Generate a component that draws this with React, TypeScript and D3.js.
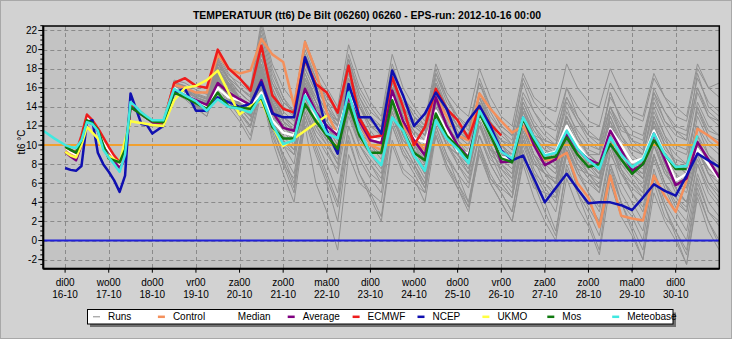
import React from "react";
import * as d3 from "d3";

// ---------- axes / categories ----------
const HOURS = [-12, -6, 0, 3, 6, 9, 12, 15, 18, 21, 24, 27, 30, 33, 36, 39, 42, 45, 48,
  54, 60, 66, 72, 78, 84, 90, 96, 102, 108, 114, 120, 126, 132, 138, 144, 150, 156, 162, 168,
  174, 180, 186, 192, 198, 204, 210, 216, 222, 228, 234, 240, 246, 252, 258, 264, 270, 276,
  282, 288, 294, 300, 306, 312, 318, 324, 330, 336, 342, 348, 354, 360];
const RUN_HOURS = [48, 54, 60, 66, 72, 78, 84, 90, 96, 102, 108, 114, 120, 126, 132, 138, 144,
  150, 156, 162, 168, 174, 180, 186, 192, 198, 204, 210, 216, 222, 228, 234, 240, 246, 252, 258,
  264, 270, 276, 282, 288, 294, 300, 306, 312, 318, 324, 330, 336, 342, 348, 354, 360];
const DAY_TICKS = [0, 24, 48, 72, 96, 120, 144, 168, 192, 216, 240, 264, 288, 312, 336];
const DAY_NAMES = ["di00", "wo00", "do00", "vr00", "za00", "zo00", "ma00", "di00", "wo00", "do00", "vr00", "za00", "zo00", "ma00", "di00"];
const DAY_DATES = ["16-10", "17-10", "18-10", "19-10", "20-10", "21-10", "22-10", "23-10", "24-10", "25-10", "26-10", "27-10", "28-10", "29-10", "30-10"];
const Y_TICKS = [-2, 0, 2, 4, 6, 8, 10, 12, 14, 16, 18, 20, 22];
const REF_ORANGE = 10;
const REF_BLUE = 0;

// ---------- named series (aligned with HOURS) ----------
const METEOBASE = [11.5, 10.7,
  10.0, 9.8, 9.7, 10.5, 12.4, 12.2, 11.5, 9.5, 8.7, 8.0, 7.2, 9.0, 14.5, 14.0, 13.4, 13.0, 12.6,
  12.6, 15.9, 15.2,
  14.6, 13.6, 14.8, 14.0,
  13.8, 13.4, 15.2, 12.2,
  10.1, 10.5, 15.2, 13.3,
  11.2, 10.7, 15.5, 11.5,
  9.1, 7.9, 12.9, 11.5,
  8.9, 7.3, 12.6, 10.7,
  9.6, 8.1, 13.6, 11.5,
  9.3, 8.6, 12.9, 10.8,
  8.9, 9.2, 11.5, 9.6,
  8.4, 7.5, 10.8, 9.0,
  7.7, 8.5, 11.2, 9.0,
  7.7, 7.8, 11.0, null,
  null];
const MOS = [null, null,
  9.8, 9.5, 9.2, 10.5, 12.6, 12.3, 11.6, 10.0, 8.6, 8.4, 8.2, 9.5, 14.0, 13.6, 13.2, 12.8, 12.5,
  12.4, 15.5, 15.0,
  14.4, 13.8, 15.5, 14.0,
  13.9, 13.8, 15.0, 11.9,
  10.7, 10.7, 14.3, 12.5,
  11.0, 9.6, 14.3, 11.0,
  9.2, 9.2, 14.7, 11.5,
  9.2, 8.4, 13.3, 11.0,
  9.8, 8.6, 13.3, 11.0,
  8.6, 8.2, 12.8, 10.5,
  8.6, 8.8, 10.8, 9.0,
  7.7, 8.0, 10.1, 8.5,
  7.0, 8.0, 10.5, 9.0,
  7.5, 7.5, null, null,
  null];
const MEDIAN = [null, null,
  9.8, 9.3, 9.0, 10.5, 12.8, 12.5, 11.8, 10.2, 9.5, 8.7, 8.0, 9.0, 14.2, 13.8, 13.3, 12.9, 12.6,
  12.5, 16.0, 15.3,
  14.7, 14.0, 16.0, 15.0,
  14.7, 14.0, 15.5, 12.6,
  11.3, 11.0, 15.5, 13.0,
  11.8, 11.3, 15.4, 12.5,
  10.7, 10.5, 15.2, 12.5,
  10.7, 10.3, 13.6, 11.5,
  9.4, 9.1, 13.1, 11.0,
  8.7, 8.7, 12.9, 10.5,
  9.0, 9.3, 12.0, 10.0,
  8.5, 8.0, 11.7, 10.0,
  8.2, 8.6, 11.5, 9.0,
  6.3, 7.0, 9.6, 8.0,
  6.4];
const AVERAGE = [null, null,
  9.3, 8.8, 8.4, 10.0, 12.5, 12.2, 11.5, 9.8, 9.0, 8.3, 7.6, 8.5, 14.0, 13.6, 13.2, 12.8, 12.4,
  12.3, 15.8, 15.2,
  14.7, 14.2, 16.5, 15.5,
  14.8, 14.2, 16.8, 13.5,
  11.8, 11.5, 15.9, 13.5,
  12.0, 11.0, 15.0, 12.5,
  10.5, 10.2, 15.7, 12.5,
  10.5, 8.9, 15.0, 12.0,
  10.0, 8.7, 13.6, 11.5,
  8.2, 8.3, 12.9, 10.0,
  7.9, 8.5, 11.2, 9.5,
  8.5, 8.0, 11.5, 9.5,
  7.3, 8.0, 11.2, 8.5,
  5.8, 6.5, 10.3, 8.5,
  6.6];
const CONTROL = [null, null,
  9.7, 9.2, 8.9, 10.3, 12.7, 12.4, 11.7, 10.1, 9.4, 8.6, 7.9, 8.8, 14.1, 13.7, 13.2, 12.8, 12.5,
  12.4, 16.3, 16.0,
  15.5, 15.5, 19.5, 18.0,
  17.5, 17.8, 21.1, 19.5,
  18.7, 14.1, 20.8, 17.8,
  13.4, 11.0, 15.5, 12.5,
  10.0, 9.5, 15.0, 12.0,
  10.5, 9.5, 15.0, 13.0,
  11.0, 10.5, 15.4, 13.8,
  12.5, 11.3, 12.0, 10.0,
  8.4, 8.5, 9.2, 6.0,
  4.5, 1.4, 6.8, 2.6,
  2.3, 2.1, 6.8, 4.7,
  3.0, 6.3, 11.7, 11.0,
  10.1];
const ECMWF = [null, null,
  9.9, 9.5, 9.2, 11.0, 13.2, 12.6, 11.8, 10.8, 9.8, 8.9, 8.2, 9.0, 14.2, 13.8, 13.4, 12.9, 12.5,
  12.3, 16.5, 17.0,
  16.2, 16.0, 20.0, 18.0,
  17.0, 15.7, 20.4, 15.2,
  13.8, 13.4, 19.0, 16.4,
  15.5, 13.4, 18.3, 12.8,
  10.8, 11.0, 17.1, 14.0,
  10.0, 11.9, 15.9, 13.8,
  12.6, 10.7, 14.0, 12.2,
  11.0, null, null, null,
  null, null, null, null,
  null, null, null, null,
  null, null, null, null,
  null, null, null, null,
  null];
const NCEP = [null, null,
  7.6, 7.4, 7.3, 7.8, 12.4, 12.6, 9.2, 8.0, 7.2, 6.3, 5.1, 6.8, 15.4, 13.8, 12.2, 12.1, 11.2,
  12.0, 15.5, 15.9,
  13.6, 13.6, 15.0, 14.5,
  14.0, 14.3, 16.6, 13.3,
  12.9, 12.9, 19.2, 16.0,
  11.5, 9.1, 16.4, 12.9,
  12.9, 11.2, 17.8, 15.2,
  12.0, 13.3, 15.5, 13.8,
  10.8, 12.6, 14.1, 12.0,
  9.4, 8.4, 8.9, 6.5,
  4.0, 5.5, 7.0, 5.4,
  3.9, 4.0, 4.0, 3.7,
  3.2, 4.5, 5.9, 5.2,
  4.7, 6.8, 9.1, 8.4,
  7.7];
const UKMO = [null, null,
  9.3, 8.9, 8.7, 10.0, 11.9, 11.3, 10.7, 9.5, 8.9, 8.5, 8.2, 10.5, 12.5, 12.4, 12.3, 12.2, 12.1,
  12.0, 14.7, 16.0,
  16.2, 16.8, 17.8, 15.5,
  13.2, 14.1, 14.7, 12.0,
  9.9, null, null, null,
  13.1, null, null, null,
  null, null, null, null,
  null, null, null, null,
  null, null, null, null,
  null, null, null, null,
  null, null, null, null,
  null, null, null, null,
  null, null, null, null,
  null, null, null, null,
  null];

// ---------- ensemble runs (aligned with RUN_HOURS) ----------
const RUN_01 = [12.5, 12.4, 16.5, 15.8, 15.0, 14.6, 19.0, 17.0, 16.0, 15.0, 22.0, 17.5, 15.0, 13.0, 20.0, 17.0, 15.5, 13.0, 19.5, 16.0, 14.0, 12.5, 18.0, 15.0, 13.5, 12.0, 17.5, 15.0, 13.0, 11.5, 16.5, 14.0, 12.0, 11.0, 17.0, 14.5, 13.0, 12.0, 16.0, 14.0, 12.5, 12.0, 16.5, 14.5, 13.0, 12.5, 17.0, 15.0, 14.0, 13.0, 18.5, 16.0, 15.0];
const RUN_02 = [12.2, 12.0, 15.5, 15.0, 14.0, 13.0, 16.5, 14.5, 13.0, 11.0, 16.0, 11.0, 8.0, 5.0, 13.0, 10.0, 7.0, 4.0, 12.0, 9.0, 7.0, 6.0, 13.5, 10.0, 8.0, 5.5, 12.0, 9.0, 7.0, 4.0, 10.0, 7.0, 5.0, 3.0, 9.0, 6.0, 4.0, 1.0, 7.5, 5.0, 3.0, 0.5, 7.0, 4.0, 2.5, 0.0, 7.0, 3.5, 1.0, -1.0, 6.0, 3.0, 2.0];
const RUN_03 = [12.4, 12.3, 16.2, 16.0, 15.0, 14.5, 18.5, 16.5, 15.0, 14.0, 19.0, 15.0, 13.0, 12.0, 17.5, 15.0, 13.0, 11.5, 16.5, 13.0, 11.0, 10.0, 16.0, 13.5, 11.5, 10.0, 15.5, 12.0, 10.0, 8.0, 14.0, 12.0, 10.5, 9.5, 14.5, 12.0, 10.0, 9.0, 12.5, 10.0, 8.0, 6.5, 12.0, 10.0, 8.0, 7.0, 13.0, 10.5, 9.0, 8.0, 14.0, 11.0, 10.0];
const RUN_04 = [12.0, 11.8, 15.8, 15.2, 14.2, 13.5, 17.0, 15.5, 14.0, 13.0, 17.0, 13.0, 10.0, 8.0, 15.0, 13.0, 11.0, 9.0, 14.0, 10.0, 8.5, 7.0, 14.0, 11.5, 9.5, 7.5, 14.5, 12.5, 10.0, 9.0, 12.5, 9.0, 6.5, 5.0, 11.0, 8.0, 7.0, 6.5, 10.0, 7.5, 5.0, 3.0, 9.0, 7.0, 6.0, 5.0, 10.5, 7.5, 5.0, 4.0, 9.0, 6.0, 4.5];
const RUN_05 = [12.3, 12.1, 15.9, 15.3, 14.3, 13.8, 17.2, 15.0, 13.5, 12.0, 16.5, 12.0, 9.0, 6.0, 12.0, 6.0, 3.0, -1.0, 9.0, 6.0, 5.0, 4.0, 12.0, 9.0, 8.0, 6.0, 13.0, 10.0, 9.0, 7.5, 12.0, 9.0, 8.0, 7.0, 12.5, 10.0, 9.0, 8.5, 12.0, 9.5, 9.0, 9.0, 13.0, 10.0, 8.5, 8.0, 12.0, 9.0, 7.0, 6.0, 11.0, 9.0, 8.0];
const RUN_06 = [12.4, 12.2, 16.1, 15.6, 14.6, 14.2, 18.0, 16.5, 15.5, 14.5, 20.0, 16.0, 13.5, 12.5, 18.0, 15.5, 13.5, 12.0, 17.0, 14.0, 12.0, 11.5, 17.0, 14.5, 12.5, 11.0, 16.5, 14.0, 12.0, 11.0, 15.0, 12.5, 11.0, 10.0, 14.5, 12.0, 10.5, 10.0, 14.5, 12.5, 11.0, 10.5, 15.0, 13.0, 11.5, 11.0, 15.5, 13.5, 12.0, 11.5, 17.0, 14.5, 13.5];
const RUN_07 = [12.1, 12.0, 15.6, 15.0, 14.0, 13.5, 17.0, 15.5, 14.0, 12.5, 17.0, 13.5, 11.0, 9.5, 15.0, 12.0, 10.0, 8.0, 14.0, 11.0, 9.0, 8.0, 14.5, 11.5, 9.0, 7.0, 13.0, 10.0, 8.0, 6.0, 11.0, 8.0, 6.0, 4.5, 10.5, 7.0, 5.0, 3.0, 9.0, 5.5, 3.5, 1.5, 8.0, 5.0, 3.0, 1.0, 7.5, 4.0, 2.0, 0.0, 6.5, 3.0, 1.5];
const RUN_08 = [12.3, 12.3, 16.3, 15.9, 14.8, 14.3, 18.2, 16.2, 14.8, 13.8, 18.5, 14.5, 12.5, 11.5, 17.0, 15.0, 13.0, 12.0, 16.0, 12.0, 10.0, 9.0, 15.0, 12.0, 10.0, 8.0, 14.0, 11.0, 9.0, 7.0, 13.0, 10.0, 8.0, 7.0, 12.0, 9.0, 7.0, 6.0, 13.0, 11.0, 9.0, 8.0, 13.5, 11.0, 9.5, 9.0, 14.0, 11.0, 8.0, 7.0, 12.0, 10.0, 9.0];
const RUN_09 = [12.2, 12.1, 15.7, 15.4, 14.4, 13.9, 17.4, 15.8, 14.2, 13.2, 17.8, 13.8, 11.5, 10.0, 16.5, 14.5, 12.5, 11.0, 16.5, 13.0, 11.0, 10.5, 16.5, 13.5, 11.0, 9.5, 15.5, 13.0, 11.0, 10.0, 14.0, 11.0, 9.0, 8.0, 13.5, 11.0, 9.0, 8.0, 11.0, 8.0, 6.5, 5.5, 10.5, 8.0, 7.0, 6.0, 11.0, 8.0, 6.0, 5.5, 10.0, 7.5, 6.5];
const RUN_10 = [12.3, 12.2, 16.0, 15.4, 14.5, 14.0, 17.6, 16.2, 14.6, 13.6, 17.6, 14.2, 12.0, 11.0, 16.2, 14.0, 12.0, 10.0, 15.0, 12.0, 10.0, 9.5, 15.0, 12.0, 9.0, 7.0, 12.0, 9.0, 6.0, 4.0, 9.5, 6.0, 4.0, 2.0, 8.5, 5.5, 5.0, 4.5, 9.5, 7.5, 7.0, 6.5, 12.0, 9.0, 7.5, 7.0, 12.5, 9.0, 6.5, 7.0, 13.0, 10.5, 9.5];
const RUN_11 = [12.4, 12.3, 16.4, 16.0, 15.2, 14.8, 18.8, 16.8, 15.0, 14.0, 20.5, 15.5, 12.5, 10.5, 18.5, 16.0, 14.0, 12.5, 18.0, 14.5, 12.0, 11.0, 17.0, 13.0, 11.0, 9.5, 16.0, 13.5, 11.5, 10.5, 15.5, 12.5, 10.0, 9.0, 14.0, 11.0, 9.0, 8.0, 13.5, 11.5, 10.0, 9.5, 14.0, 11.0, 9.0, 8.0, 13.0, 10.0, 8.0, 7.5, 14.5, 12.0, 11.0];
const RUN_12 = [12.2, 12.0, 15.8, 15.1, 14.1, 13.6, 17.2, 15.6, 14.3, 13.1, 17.3, 13.4, 10.5, 9.0, 15.5, 13.0, 11.0, 9.5, 15.0, 11.5, 9.5, 9.0, 14.5, 11.0, 9.5, 8.0, 14.0, 11.5, 10.0, 8.5, 13.0, 10.5, 9.0, 8.5, 12.0, 9.0, 7.5, 6.0, 10.5, 8.0, 7.0, 6.0, 11.0, 8.5, 7.5, 6.5, 10.0, 7.0, 5.5, 4.0, 8.5, 6.0, 5.0];
const RUN_13 = [12.3, 12.1, 15.9, 15.2, 14.2, 13.7, 17.0, 15.2, 13.8, 12.6, 17.2, 12.5, 8.5, 5.5, 14.0, 11.0, 9.0, 7.5, 14.5, 11.5, 10.0, 9.0, 15.0, 12.0, 10.5, 9.5, 15.0, 12.0, 9.5, 8.5, 13.5, 11.0, 9.5, 9.0, 13.5, 11.0, 9.5, 9.0, 12.5, 10.0, 8.5, 8.0, 12.0, 9.5, 8.0, 7.5, 11.5, 8.5, 6.5, 6.0, 10.5, 8.0, 6.5];
const RUN_14 = [12.5, 12.4, 16.6, 16.2, 15.4, 15.0, 19.5, 17.5, 16.0, 15.2, 21.0, 16.5, 14.0, 13.0, 19.0, 16.5, 14.5, 13.5, 18.5, 15.0, 13.0, 12.0, 17.5, 14.0, 12.5, 11.5, 16.0, 13.0, 11.0, 10.0, 14.5, 12.0, 10.5, 10.0, 13.0, 10.0, 8.0, 7.0, 11.5, 9.0, 7.0, 5.5, 10.0, 7.5, 5.0, 3.5, 9.0, 6.0, 4.0, 3.0, 8.0, 5.0, 3.5];
const RUN_15 = [12.3, 12.2, 16.1, 15.5, 14.5, 14.1, 17.8, 16.0, 14.4, 13.3, 17.6, 14.0, 12.0, 11.0, 15.5, 13.0, 10.5, 8.0, 13.5, 10.0, 8.0, 6.5, 13.0, 10.5, 9.0, 8.5, 14.5, 12.0, 10.5, 9.5, 14.0, 11.5, 10.0, 9.0, 14.0, 11.5, 10.0, 9.5, 13.0, 10.5, 9.0, 8.0, 12.5, 10.0, 8.0, 6.5, 11.0, 8.0, 5.5, 4.0, 9.5, 7.5, 7.0];
const RUN_16 = [12.2, 12.0, 15.7, 15.3, 14.3, 13.7, 17.3, 15.7, 14.4, 13.4, 17.9, 14.4, 12.5, 11.5, 16.8, 14.5, 12.0, 10.5, 15.0, 12.0, 10.5, 10.0, 15.5, 12.5, 10.0, 8.5, 14.5, 11.5, 9.0, 7.5, 12.0, 9.5, 7.5, 6.5, 11.5, 8.5, 6.0, 4.5, 9.5, 7.0, 6.0, 5.0, 10.5, 8.0, 6.5, 5.0, 9.0, 6.0, 3.5, 2.0, 8.0, 5.5, 4.0];
const RUN_17 = [12.4, 12.2, 16.2, 15.7, 14.7, 14.3, 17.9, 16.3, 14.9, 14.1, 19.0, 15.0, 13.0, 12.0, 17.0, 14.5, 12.5, 11.0, 16.0, 12.5, 11.0, 10.5, 16.0, 13.0, 11.5, 10.5, 15.5, 12.0, 10.5, 9.0, 13.0, 10.0, 7.0, 5.5, 11.0, 7.5, 5.5, 4.0, 9.0, 5.5, 4.0, 2.0, 8.0, 4.0, 1.5, -1.0, 6.0, 2.5, 1.0, -1.5, 5.5, 2.0, -0.5];
const RUN_18 = [12.3, 12.2, 16.0, 15.6, 14.6, 14.1, 17.7, 16.1, 14.7, 13.7, 18.2, 14.3, 12.0, 11.0, 16.5, 14.0, 12.5, 11.0, 17.0, 14.0, 12.5, 12.0, 16.5, 13.5, 12.0, 11.0, 16.5, 13.5, 12.0, 11.0, 15.5, 13.0, 11.5, 10.5, 15.5, 13.5, 12.0, 11.5, 15.0, 13.0, 11.5, 10.5, 14.0, 12.0, 10.5, 10.0, 15.0, 12.5, 11.0, 10.5, 16.0, 13.5, 12.5];
const RUN_19 = [12.5, 12.4, 16.8, 16.5, 15.8, 15.3, 20.0, 18.0, 17.0, 16.0, 23.0, 18.5, 16.0, 14.5, 21.0, 18.0, 16.0, 14.0, 20.5, 17.0, 14.5, 13.0, 19.5, 16.0, 14.0, 12.5, 18.5, 15.5, 14.0, 13.0, 18.0, 15.0, 13.0, 12.0, 17.5, 15.0, 14.0, 13.5, 18.5, 16.0, 14.5, 14.0, 18.0, 15.5, 13.5, 13.0, 17.5, 15.0, 13.0, 12.5, 18.0, 16.0, 16.5];
const RUN_20 = [12.1, 11.9, 15.5, 14.8, 13.8, 13.0, 16.5, 14.0, 12.5, 10.5, 15.5, 10.5, 7.0, 4.0, 12.5, 9.0, 6.0, 2.0, 10.5, 7.0, 5.0, 2.5, 10.5, 7.5, 6.5, 4.0, 11.0, 8.0, 6.0, 3.5, 10.0, 6.5, 5.0, 3.0, 9.5, 6.0, 3.0, 0.5, 8.0, 5.0, 2.0, -1.0, 7.5, 4.0, 1.0, -2.0, 6.5, 3.5, 0.5, -2.5, 5.0, 2.0, 0.0];
const RUN_21 = [12.4, 12.3, 16.4, 16.2, 15.2, 14.8, 19.0, 17.0, 16.0, 15.0, 21.5, 17.0, 14.5, 13.5, 19.5, 16.5, 14.0, 12.0, 18.0, 14.0, 11.5, 10.0, 16.0, 13.0, 11.0, 9.0, 15.0, 12.0, 10.0, 8.0, 13.5, 10.0, 8.0, 6.5, 12.0, 9.0, 7.0, 5.0, 10.5, 8.0, 6.5, 5.0, 11.0, 8.5, 7.5, 6.5, 12.0, 9.5, 8.5, 8.0, 14.0, 11.5, 11.0];
const RUN_22 = [12.2, 12.0, 15.6, 15.0, 14.0, 13.4, 17.0, 15.0, 13.5, 12.0, 16.0, 12.5, 10.0, 9.0, 13.5, 11.0, 9.5, 7.0, 13.0, 10.0, 8.0, 6.0, 12.0, 9.0, 7.0, 5.0, 11.5, 8.5, 7.0, 5.5, 11.0, 8.5, 7.5, 6.0, 12.0, 9.0, 8.0, 7.0, 11.5, 8.5, 7.0, 5.5, 10.0, 7.0, 5.0, 3.0, 8.5, 5.5, 3.0, 1.0, 7.0, 4.0, 2.5];
const RUN_23 = [12.4, 12.2, 16.3, 16.0, 15.0, 14.5, 18.5, 17.0, 15.5, 14.5, 19.5, 16.5, 14.5, 13.5, 19.5, 17.0, 15.0, 13.5, 19.0, 15.5, 13.5, 12.5, 18.5, 15.0, 13.0, 11.5, 17.0, 14.0, 12.0, 10.5, 15.0, 12.0, 10.0, 8.5, 13.5, 10.5, 8.5, 7.5, 12.0, 9.5, 8.0, 7.0, 11.0, 8.5, 7.0, 5.5, 10.0, 7.5, 6.0, 5.0, 9.5, 7.0, 6.0];
const RUN_24 = [12.3, 12.2, 16.0, 15.4, 14.5, 14.0, 17.5, 15.5, 14.0, 13.0, 18.0, 14.5, 12.0, 10.5, 15.0, 12.0, 10.5, 9.5, 14.5, 12.0, 11.0, 10.5, 17.0, 14.0, 12.0, 11.0, 16.5, 13.5, 11.5, 10.5, 15.0, 12.0, 10.5, 9.5, 15.0, 12.5, 11.0, 10.0, 14.0, 11.0, 9.0, 8.0, 13.0, 10.5, 9.5, 9.0, 13.5, 11.0, 9.5, 9.0, 13.5, 11.0, 10.5];
const RUN_25 = [12.2, 12.1, 15.8, 15.2, 14.2, 13.6, 16.8, 14.8, 13.5, 12.0, 16.0, 11.5, 8.0, 6.5, 13.0, 9.5, 6.5, 3.5, 11.0, 7.0, 4.5, 2.0, 10.0, 7.0, 6.0, 5.0, 12.5, 10.0, 9.0, 8.0, 12.5, 9.5, 8.5, 7.5, 11.5, 8.5, 7.0, 6.0, 11.0, 8.5, 7.5, 6.5, 10.0, 7.0, 5.5, 4.5, 9.0, 6.0, 4.5, 3.5, 9.5, 7.0, 6.5];
const RUN_26 = [12.4, 12.3, 16.2, 15.8, 14.8, 14.4, 18.2, 16.4, 15.0, 14.2, 19.5, 15.5, 13.0, 12.0, 17.5, 14.5, 12.0, 10.0, 16.0, 12.5, 10.0, 8.5, 14.0, 11.0, 8.5, 6.5, 12.5, 10.0, 8.5, 7.0, 12.0, 9.5, 9.0, 8.5, 13.0, 11.0, 10.5, 10.0, 15.0, 12.5, 10.5, 9.5, 15.5, 12.5, 10.0, 9.0, 14.5, 12.0, 10.0, 9.5, 15.5, 13.0, 12.5];
const RUN_27 = [12.3, 12.1, 15.9, 15.3, 14.4, 13.9, 17.3, 15.6, 14.3, 13.3, 17.5, 13.8, 11.5, 10.5, 15.5, 13.0, 11.0, 9.5, 14.0, 10.5, 9.0, 8.0, 13.0, 10.0, 8.0, 6.0, 11.0, 7.5, 5.5, 3.5, 9.0, 6.0, 4.0, 2.0, 8.0, 4.5, 2.0, 0.0, 6.5, 3.5, 1.5, -1.5, 6.0, 2.5, 0.5, -2.0, 5.0, 2.0, 0.0, -2.5, 4.5, 1.0, -1.0];
const RUN_28 = [12.5, 12.4, 16.5, 16.2, 15.3, 14.9, 19.2, 17.3, 16.5, 15.5, 22.5, 18.0, 15.0, 13.5, 20.5, 17.5, 14.5, 12.5, 19.0, 15.0, 12.5, 11.5, 18.0, 15.0, 13.0, 12.0, 18.0, 15.0, 12.5, 11.0, 17.0, 14.0, 12.0, 11.0, 16.5, 13.5, 11.5, 10.5, 16.0, 13.0, 11.0, 10.0, 15.5, 12.5, 10.5, 9.5, 16.0, 13.5, 11.5, 10.5, 17.5, 14.0, 13.0];
const RUN_29 = [12.2, 12.0, 15.7, 15.2, 14.2, 13.8, 17.2, 15.5, 14.2, 13.0, 17.0, 13.0, 10.5, 9.5, 14.5, 11.5, 10.0, 8.5, 14.0, 11.0, 9.0, 7.5, 13.5, 10.5, 9.5, 8.5, 13.5, 10.5, 8.0, 6.5, 11.0, 8.0, 6.0, 4.5, 10.0, 7.0, 6.0, 5.0, 11.5, 9.0, 8.0, 7.0, 12.5, 9.5, 8.5, 8.0, 12.5, 10.0, 8.0, 7.0, 12.0, 9.0, 7.5];
const RUN_30 = [12.3, 12.2, 16.1, 15.7, 14.7, 14.2, 17.9, 16.4, 14.8, 13.9, 18.4, 14.8, 12.5, 11.5, 16.5, 14.0, 12.0, 10.5, 16.0, 13.0, 11.0, 10.0, 15.0, 12.0, 10.0, 9.0, 14.0, 11.0, 9.5, 8.5, 14.5, 12.0, 10.0, 9.0, 13.0, 10.0, 8.5, 7.5, 12.5, 10.0, 8.5, 7.0, 10.5, 7.5, 6.0, 4.5, 10.0, 7.0, 6.0, 5.5, 11.0, 8.0, 7.0];
const RUN_31 = [12.2, 12.0, 15.6, 15.0, 14.1, 13.5, 16.8, 14.8, 13.3, 11.8, 16.2, 11.8, 9.0, 7.0, 13.5, 10.5, 8.0, 5.0, 12.0, 8.5, 6.5, 5.0, 12.5, 9.5, 7.5, 5.5, 11.0, 8.0, 5.5, 3.0, 9.5, 6.5, 5.5, 4.5, 10.5, 8.0, 7.0, 6.0, 10.0, 7.0, 5.0, 3.5, 9.5, 6.0, 4.0, 2.0, 9.0, 6.0, 4.5, 3.0, 10.0, 7.0, 5.0];
const RUN_32 = [12.4, 12.3, 16.3, 15.9, 15.0, 14.6, 18.6, 16.8, 15.5, 14.5, 20.5, 16.0, 13.0, 11.5, 18.0, 15.5, 13.5, 12.5, 17.5, 14.0, 12.0, 11.0, 17.0, 14.0, 12.5, 11.5, 17.5, 14.5, 13.0, 12.0, 16.5, 13.5, 11.5, 10.0, 14.0, 11.0, 9.5, 8.5, 13.0, 10.5, 9.5, 9.0, 14.0, 11.5, 11.0, 10.5, 15.5, 12.5, 11.5, 11.0, 16.0, 13.0, 12.0];
const RUNS = [RUN_01, RUN_02, RUN_03, RUN_04, RUN_05, RUN_06, RUN_07, RUN_08, RUN_09,
  RUN_10, RUN_11, RUN_12, RUN_13, RUN_14, RUN_15, RUN_16, RUN_17, RUN_18, RUN_19, RUN_20,
  RUN_21, RUN_22, RUN_23, RUN_24, RUN_25, RUN_26, RUN_27, RUN_28, RUN_29, RUN_30, RUN_31, RUN_32];

const LEGEND_NAMES = ["Runs", "Control", "Median", "Average", "ECMWF", "NCEP", "UKMO", "Mos", "Meteobase"];
const LEGEND_COLORS = ["#8a8a8a", "#f4905c", "#ffffff", "#800080", "#ee1c1c", "#1010b0", "#ffff40", "#107a10", "#40e8e0"];

const SERIES = [
  { name: "Control", values: CONTROL, color: "#f4905c" },
  { name: "Median", values: MEDIAN, color: "#ffffff" },
  { name: "Average", values: AVERAGE, color: "#800080" },
  { name: "ECMWF", values: ECMWF, color: "#ee1c1c" },
  { name: "NCEP", values: NCEP, color: "#1010b0" },
  { name: "UKMO", values: UKMO, color: "#ffff40" },
  { name: "Mos", values: MOS, color: "#107a10" },
  { name: "Meteobase", values: METEOBASE, color: "#40e8e0" },
];

const W = 732, H = 339;
const PL = 43.3, PR = 719.3, PT = 26, PB = 268.7;

export default function App() {
  const x = d3.scaleLinear().domain([-12, 360]).range([PL, PR]);
  const y = d3.scaleLinear().domain([-2.95, 22.47]).range([PB, PT]);
  const line = d3.line<[number, number]>().x(d => x(d[0])).y(d => y(d[1]));

  const pts = (hours: number[], vals: (number | null)[]) =>
    hours.map((h, i) => [h, vals[i]] as [number, number | null])
      .filter(p => p[1] !== null && p[1] !== undefined) as [number, number][];

  const minorY = d3.range(-2.5, 22.51, 0.5);
  const font = "Arial, 'Liberation Sans', sans-serif";

  return (
    <svg width={W} height={H} style={{ position: "fixed", left: 0, top: 0 }} fontFamily={font}>
      <defs>
        <clipPath id="plotclip">
          <rect x={PL} y={PT} width={PR - PL} height={PB - PT} />
        </clipPath>
      </defs>
      <rect x={0} y={0} width={W} height={H} fill="#d2d2d2" />
      <rect x={0.5} y={0.5} width={W - 1} height={H - 1} fill="none" stroke="#a8a8a8" />
      <rect x={PL} y={PT} width={PR - PL} height={PB - PT} fill="#c3c3c3" />

      {/* grid */}
      <g stroke="#8a8a8a" strokeWidth={1} strokeDasharray="4 3">
        {Y_TICKS.map(t => (
          <line key={"gy" + t} x1={PL} x2={PR} y1={Math.round(y(t)) + 0.5} y2={Math.round(y(t)) + 0.5} />
        ))}
        {DAY_TICKS.map(t => (
          <line key={"gx" + t} x1={Math.round(x(t)) + 0.5} x2={Math.round(x(t)) + 0.5} y1={PT} y2={PB} />
        ))}
      </g>

      <g clipPath="url(#plotclip)">
        <g fill="none" stroke="#919191" strokeWidth={1}>
          {RUNS.map((r, i) => (
            <path key={"run" + i} d={line(pts(RUN_HOURS, r)) || ""} />
          ))}
        </g>
        <line x1={PL} x2={PR} y1={y(REF_ORANGE)} y2={y(REF_ORANGE)} stroke="#f0a030" strokeWidth={2} />
        <line x1={PL} x2={PR} y1={y(REF_BLUE)} y2={y(REF_BLUE)} stroke="#2020d8" strokeWidth={2} />
        {SERIES.map(s => (
          <path key={s.name} d={line(pts(HOURS, s.values)) || ""} fill="none" stroke={s.color}
            strokeWidth={2.5} strokeLinejoin="round" />
        ))}
      </g>

      {/* frame */}
      <rect x={PL} y={PT} width={PR - PL} height={PB - PT} fill="none" stroke="#000" strokeWidth={1.5} />
      <line x1={PL} x2={PR} y1={PB} y2={PB} stroke="#000" strokeWidth={2} />
      <line x1={PL} x2={PL} y1={PT} y2={PB} stroke="#000" strokeWidth={2} />

      <g stroke="#000" strokeWidth={1}>
        {minorY.map(t => (
          <line key={"my" + t} x1={PL - 3} x2={PL} y1={y(t)} y2={y(t)} />
        ))}
        {Y_TICKS.map(t => (
          <line key={"ty" + t} x1={PL - 5} x2={PL} y1={y(t)} y2={y(t)} />
        ))}
        {DAY_TICKS.map(t => (
          <line key={"tx" + t} x1={x(t)} x2={x(t)} y1={PB} y2={PB + 4} />
        ))}
      </g>
      <g fontSize={10} fill="#000" textAnchor="end">
        {Y_TICKS.map(t => (
          <text key={"ly" + t} x={37} y={y(t) + 3.5}>{t}</text>
        ))}
      </g>
      <text transform={`translate(25,142) rotate(-90)`} fontSize={10} textAnchor="middle" fill="#000">tt6 °C</text>

      <g fontSize={10} fill="#000" textAnchor="middle">
        {DAY_TICKS.map((t, i) => (
          <g key={"lx" + t}>
            <text x={x(t)} y={285.5}>{DAY_NAMES[i]}</text>
            <text x={x(t)} y={297.5}>{DAY_DATES[i]}</text>
          </g>
        ))}
      </g>

      <text x={367} y={18.5} fontSize={10.5} fontWeight="bold" textAnchor="middle" fill="#000"
        textLength={348} lengthAdjust="spacingAndGlyphs">
        TEMPERATUUR (tt6) De Bilt (06260) 06260 - EPS-run: 2012-10-16 00:00
      </text>

      {/* legend */}
      <rect x={90} y={312.5} width={586} height={14.5} fill="#707070" />
      <rect x={87.5} y={309.5} width={585.5} height={14.5} fill="#ffffff" stroke="#000" strokeWidth={1} />
      {LEGEND_NAMES.map((n, i) => {
        const lx = 93 + i * 64.9;
        return (
          <g key={"leg" + n}>
            <line x1={lx} x2={lx + 7} y1={316.8} y2={316.8} stroke={LEGEND_COLORS[i]}
              strokeWidth={n === "Runs" ? 1 : 2.5} />
            <text x={lx + 15} y={320.3} fontSize={10} fill="#000">{n}</text>
          </g>
        );
      })}
    </svg>
  );
}
